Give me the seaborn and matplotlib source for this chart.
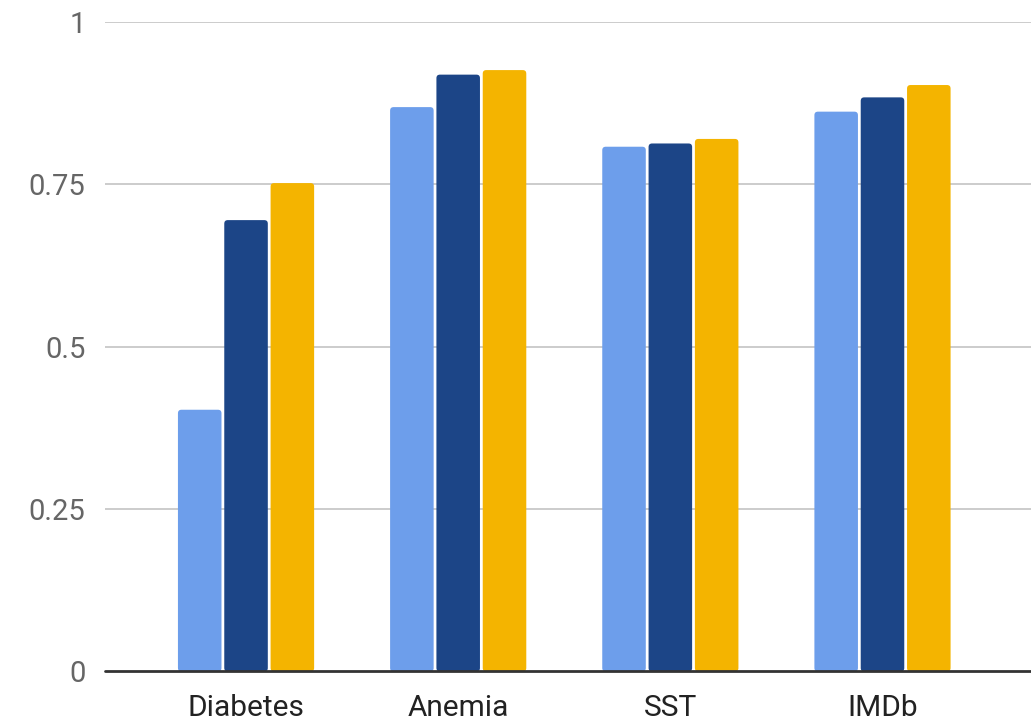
import matplotlib
matplotlib.use("Agg")
import matplotlib.pyplot as plt
from matplotlib.patches import FancyBboxPatch
import seaborn as sns
import pandas as pd

# Scores per dataset for the three compared methods
datasets = ["Diabetes", "Anemia", "SST", "IMDb"]
method_a = [0.403, 0.869, 0.808, 0.862]
method_b = [0.695, 0.919, 0.813, 0.884]
method_c = [0.752, 0.926, 0.820, 0.903]
methods = ["Method A", "Method B", "Method C"]
y_ticks = [0, 0.25, 0.5, 0.75, 1]
y_tick_labels = ["0", "0.25", "0.5", "0.75", "1"]

colors = ["#6D9EEB", "#1C4587", "#F4B400"]

df = pd.DataFrame({
    "dataset": datasets * 3,
    "method": [m for m in methods for _ in datasets],
    "score": method_a + method_b + method_c,
})

sns.set_theme(style="white")
plt.rcParams["font.family"] = ["Roboto", "DejaVu Sans"]

fig = plt.figure(figsize=(10.31, 7.2), dpi=100)
ax = fig.add_axes([0.1018, 0.0674, 0.8982, 0.902])

sns.barplot(data=df, x="dataset", y="score", hue="method", order=datasets,
            hue_order=methods, palette=colors, width=0.655, gap=0.06,
            saturation=1, legend=False, ax=ax, zorder=3)

ax.set_ylim(0, 1)
ax.set_xlim(-0.665, 3.70)

# Give each bar softly rounded corners
fig.canvas.draw()
x_per_px = (ax.get_xlim()[1] - ax.get_xlim()[0]) / ax.bbox.width
y_per_px = (ax.get_ylim()[1] - ax.get_ylim()[0]) / ax.bbox.height
radius_px = 3.5
for bar in list(ax.patches):
    x0, y0 = bar.get_x(), bar.get_y()
    w, h = bar.get_width(), bar.get_height()
    rounded = FancyBboxPatch(
        (x0, y0), w, h,
        boxstyle=f"round,pad=0,rounding_size={radius_px * x_per_px}",
        mutation_aspect=y_per_px / x_per_px,
        facecolor=bar.get_facecolor(), edgecolor="none",
        zorder=3, clip_on=True,
    )
    bar.remove()
    ax.add_patch(rounded)

ax.set_yticks(y_ticks)
ax.set_yticklabels(y_tick_labels)
ax.set_xlabel("")
ax.set_ylabel("")

for y in y_ticks[1:]:
    ax.axhline(y, color="#CCCCCC", linewidth=1.4, zorder=1)
ax.axhline(0, color="#333333", linewidth=2, zorder=4, clip_on=False)

for side in ["top", "right", "left", "bottom"]:
    ax.spines[side].set_visible(False)

ax.tick_params(axis="y", length=0, pad=14, labelsize=21, labelcolor="#666666")
ax.tick_params(axis="x", length=0, pad=16, labelsize=21.5, labelcolor="#222222")

fig.savefig("out.png", dpi=100)
